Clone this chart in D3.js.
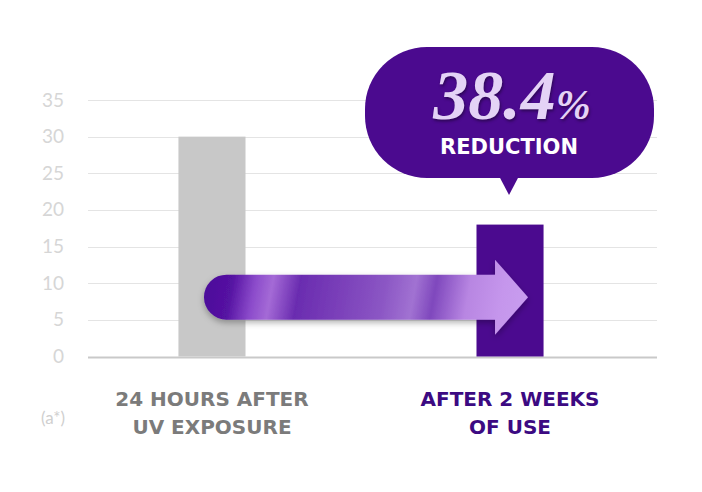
<!DOCTYPE html>
<html>
<head>
<meta charset="utf-8">
<script src="https://cdn.jsdelivr.net/npm/d3@7"></script>
<style>
  body { margin: 0; background: #fff; }
  svg { display: block; }
</style>
</head>
<body>
<div id="chart"></div>
<script>
// chart values
const categories = ['24 HOURS AFTER|UV EXPOSURE', 'AFTER 2 WEEKS|OF USE'];
const values = [30, 18];
const barColors = ['#c8c8c8', '#4b0a8f'];
const labelColors = ['#7b7b7b', '#3c0a82'];
const yTicks = [0, 5, 10, 15, 20, 25, 30, 35];
const calloutMain = '38.4';
const calloutPct = '%';
const calloutSub = 'REDUCTION';
const unitLabel = '(a*)';

const width = 702, height = 492;

const svg = d3.select('#chart')
  .append('svg')
  .attr('width', width)
  .attr('height', height);

const defs = svg.append('defs');

// *** scales *** //
const x = d3.scaleBand()
  .domain(categories)
  .range([64, 658])
  .paddingInner(0.775)
  .paddingOuter(0.384);

const y = d3.scaleLinear()
  .domain([0, 35])
  .range([356.5, 100]);

// *** gridlines + tick labels *** //
const grid = svg.append('g');
grid.selectAll('line')
  .data(yTicks)
  .join('line')
  .attr('x1', 88)
  .attr('x2', 657)
  .attr('y1', d => Math.round(y(d)) + 0.5)
  .attr('y2', d => Math.round(y(d)) + 0.5)
  .attr('stroke', d => d === 0 ? '#c9c9c9' : '#e4e4e4')
  .attr('stroke-width', d => d === 0 ? 2 : 1.2);

grid.selectAll('text')
  .data(yTicks)
  .join('text')
  .attr('x', 64)
  .attr('y', d => y(d) + 6.5)
  .attr('text-anchor', 'end')
  .attr('fill', '#d6d6d6')
  .style('font-family', 'Lato, "Open Sans", sans-serif')
  .style('font-size', '19px')
  .text(d => d);

// *** bars *** //
svg.append('g')
  .selectAll('rect')
  .data(values)
  .join('rect')
  .attr('x', (d, i) => x(categories[i]))
  .attr('y', d => y(d))
  .attr('width', x.bandwidth())
  .attr('height', d => y(0) - y(d))
  .attr('fill', (d, i) => barColors[i]);

// *** arrow *** //
const shadow = defs.append('filter')
  .attr('id', 'shadow')
  .attr('x', '-10%').attr('y', '-30%')
  .attr('width', '120%').attr('height', '170%');
shadow.append('feDropShadow')
  .attr('dx', 0).attr('dy', 3)
  .attr('stdDeviation', 3)
  .attr('flood-color', '#000')
  .attr('flood-opacity', 0.3);

const grad = defs.append('linearGradient')
  .attr('id', 'arrowGrad')
  .attr('gradientUnits', 'userSpaceOnUse')
  .attr('x1', 200).attr('y1', 270)
  .attr('x2', 530).attr('y2', 330);
[
  [0, '#4a0c98'], [0.1, '#5512a2'], [0.17, '#8c4ccb'], [0.22, '#a46ad6'],
  [0.3, '#6a2cb0'], [0.42, '#7a3fb9'], [0.55, '#8b56c4'], [0.64, '#a172d2'],
  [0.7, '#7f48bd'], [0.8, '#b886e2'], [0.9, '#c596ec'], [1, '#c99ff0']
].forEach(([o, c]) => grad.append('stop').attr('offset', o).attr('stop-color', c));

const arrowY = y(8.1);
const bodyH = 22.5;
const headH = 37.5;
const ax0 = x(categories[0]) + x.bandwidth() / 2 - 8;
const axTip = x(categories[1]) + x.bandwidth() / 2 + 18;
const headStart = axTip - 33;
const arrowPath = d3.path();
arrowPath.moveTo(ax0 + bodyH, arrowY - bodyH);
arrowPath.lineTo(headStart, arrowY - bodyH);
arrowPath.lineTo(headStart, arrowY - headH);
arrowPath.lineTo(axTip, arrowY);
arrowPath.lineTo(headStart, arrowY + headH);
arrowPath.lineTo(headStart, arrowY + bodyH);
arrowPath.lineTo(ax0 + bodyH, arrowY + bodyH);
arrowPath.arc(ax0 + bodyH, arrowY, bodyH, Math.PI / 2, Math.PI * 1.5);
arrowPath.closePath();

svg.append('path')
  .attr('d', arrowPath.toString())
  .attr('fill', 'url(#arrowGrad)')
  .attr('filter', 'url(#shadow)');

// *** callout bubble *** //
const bx = x(categories[1]) + x.bandwidth() / 2;
const bubble = svg.append('g');
bubble.append('rect')
  .attr('x', 365).attr('y', 47)
  .attr('width', 289).attr('height', 131)
  .attr('rx', 62).attr('ry', 62)
  .attr('fill', '#4b0a8f');
bubble.append('path')
  .attr('d', `M${bx - 11},176 L${bx + 9},176 L${bx - 1},195 Z`)
  .attr('fill', '#4b0a8f');

const big = bubble.append('text')
  .attr('x', bx + 2)
  .attr('y', 119)
  .attr('text-anchor', 'middle')
  .attr('fill', '#e4d3f6')
  .style('font-family', '"Liberation Serif", "DejaVu Serif", serif')
  .style('font-style', 'italic')
  .style('font-weight', 'bold')
  .style('text-shadow', '1px 2px 3px rgba(0,0,0,0.4)');
big.append('tspan').style('font-size', '70px').text(calloutMain);
big.append('tspan').style('font-size', '42px').text(calloutPct);

bubble.append('text')
  .attr('x', bx - 1)
  .attr('y', 154)
  .attr('text-anchor', 'middle')
  .attr('fill', '#ffffff')
  .style('font-family', '"DejaVu Sans", sans-serif')
  .style('font-weight', 'bold')
  .style('font-size', '21px')
  .text(calloutSub);

// *** category labels *** //
svg.append('g')
  .selectAll('text')
  .data(categories)
  .join('text')
  .attr('text-anchor', 'middle')
  .attr('fill', (d, i) => labelColors[i])
  .style('font-family', '"DejaVu Sans", sans-serif')
  .style('font-weight', 'bold')
  .style('font-size', '20px')
  .each(function(d) {
    const cx = x(d) + x.bandwidth() / 2;
    d.split('|').forEach((line, j) => {
      d3.select(this).append('tspan')
        .attr('x', cx)
        .attr('y', 406 + j * 28)
        .text(line);
    });
  });

svg.append('text')
  .attr('x', 53)
  .attr('y', 424)
  .attr('text-anchor', 'middle')
  .attr('fill', '#cfcfcf')
  .style('font-family', 'Lato, "Open Sans", sans-serif')
  .style('font-size', '17px')
  .text(unitLabel);
</script>
</body>
</html>
